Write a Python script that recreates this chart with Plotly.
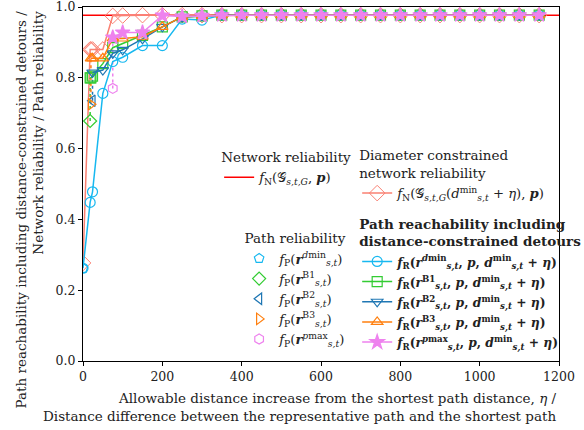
import plotly.graph_objects as go

FONT = "DejaVu Serif"

# ---------------- data ----------------
tail_x = [350, 400, 450, 500, 550, 600, 650, 700, 750, 800, 850, 900, 950, 1000, 1050, 1100, 1150]
tail_y = [0.977] * 17

net_x = [0, 1200]
net_y = [0.977, 0.977]

diam_x = [0, 18, 20, 24, 50, 75, 100, 150, 200, 250, 300] + tail_x
diam_y = [0.277, 0.88, 0.88, 0.88, 0.88, 0.975, 0.976, 0.977, 0.977, 0.977, 0.977] + tail_y

dmin_x = [0, 18, 24, 50, 75, 100, 150, 200, 250, 300] + tail_x
dmin_y = [0.262, 0.448, 0.478, 0.756, 0.846, 0.858, 0.891, 0.891, 0.966, 0.963] + tail_y

b1_x = [18, 20, 24, 50, 75, 100, 150, 200, 250, 300] + tail_x
b1_y = [0.800, 0.800, 0.805, 0.840, 0.885, 0.897, 0.920, 0.944, 0.972, 0.975] + tail_y

b2_x = [24, 50, 75, 100, 150, 200, 250, 300] + tail_x
b2_y = [0.815, 0.822, 0.869, 0.879, 0.910, 0.944, 0.972, 0.975] + tail_y

b3_x = [20, 24, 50, 75, 100, 150, 200, 250, 300] + tail_x
b3_y = [0.855, 0.855, 0.855, 0.911, 0.911, 0.916, 0.944, 0.972, 0.975] + tail_y

pmax_x = [75, 100, 150, 200, 250, 300] + tail_x
pmax_y = [0.914, 0.928, 0.928, 0.976, 0.973, 0.975] + tail_y

# path reliability (x = distance difference, y = f_P) and the f_R value it links to
fp_x = [0, 18, 24, 20, 75]
fp_y = [0.262, 0.678, 0.735, 0.725, 0.770]
fr_start_y = [0.262, 0.800, 0.815, 0.855, 0.914]

x_ticks = [0, 200, 400, 600, 800, 1000, 1200]
y_ticks = [0.0, 0.2, 0.4, 0.6, 0.8, 1.0]

# ---------------- styles ----------------
C_CYAN = "#17b8f0"
C_GREEN = "#33cc33"
C_BLUE = "#1f77b4"
C_ORANGE = "#ff7f0e"
C_PINK = "#ee82ee"
C_SALMON = "#fa8072"
TXT = "#222222"

fig = go.Figure()

rs = "<sub><i>s,t</i></sub>"
dm = "<i>d</i><sup>min</sup>" + rs + " + <i>η</i>"

fig.add_trace(go.Scatter(x=net_x, y=net_y, mode="lines", line=dict(color="red", width=1.5),
                         name="<i>f</i><sub>N</sub>(𝒢<sub><i>s,t,G</i></sub>, <b><i>p</i></b>)",
                         legend="legend"))
fig.add_trace(go.Scatter(x=diam_x, y=diam_y, mode="lines+markers",
                         line=dict(color=C_SALMON, width=1.5),
                         marker=dict(symbol="diamond-open", size=12, color=C_SALMON, line=dict(width=1)),
                         name="<i>f</i><sub>N</sub>(𝒢<sub><i>s,t,G</i></sub>(" + dm + "), <b><i>p</i></b>)",
                         legend="legend2"))

fr_specs = [
    (dmin_x, dmin_y, C_CYAN, "circle-open", "<i>d</i>min"),
    (b1_x, b1_y, C_GREEN, "square-open", "B1"),
    (b2_x, b2_y, C_BLUE, "triangle-down-open", "B2"),
    (b3_x, b3_y, C_ORANGE, "triangle-up-open", "B3"),
    (pmax_x, pmax_y, C_PINK, "star", "<i>p</i>max"),
]
fp_specs = [
    (C_CYAN, "pentagon-open", "<i>d</i>min"),
    (C_GREEN, "diamond-open", "B1"),
    (C_BLUE, "triangle-left-open", "B2"),
    (C_ORANGE, "triangle-right-open", "B3"),
    (C_PINK, "hexagon-open", "<i>p</i>max"),
]

for i, (col, sym, sup) in enumerate(fp_specs):
    fig.add_trace(go.Scatter(x=[fp_x[i], fp_x[i]], y=[fp_y[i], fr_start_y[i]], mode="lines",
                             line=dict(color=col, width=1.5, dash="dot"), showlegend=False,
                             hoverinfo="skip"))

for (xs, ys, col, sym, sup) in fr_specs:
    name = ('<span style="font-size:12.3px"><b><i>f</i><sub>R</sub>(<i>r</i><sup>' + sup + "</sup>" + rs +
            ", <i>p</i>, " + dm + ")</b></span>")
    fig.add_trace(go.Scatter(x=xs, y=ys, mode="lines+markers",
                             line=dict(color=col, width=1.5),
                             marker=dict(symbol=sym, size=10 if sym != "star" else 11, color=col,
                                         line=dict(width=1.2, color=col)),
                             name=name, legend="legend4"))

for i, (col, sym, sup) in enumerate(fp_specs):
    name = "<i>f</i><sub>P</sub>(<b><i>r</i></b><sup>" + sup + "</sup>" + rs + ")"
    fig.add_trace(go.Scatter(x=[fp_x[i]], y=[fp_y[i]], mode="markers",
                             marker=dict(symbol=sym, size=10, color=col, line=dict(width=1.2, color=col)),
                             name=name, legend="legend3"))

LF = 13.2
leg_common = dict(bgcolor="rgba(0,0,0,0)", borderwidth=0, font=dict(family=FONT, size=LF, color=TXT),
                  itemwidth=30, tracegroupgap=0)

fig.update_layout(
    width=584, height=430,
    margin=dict(l=83, r=25, t=7, b=69, autoexpand=False),
    paper_bgcolor="white", plot_bgcolor="white",
    font=dict(family=FONT, size=14, color=TXT),
    showlegend=True,
    legend=dict(x=0.286, y=0.611, xanchor="left", yanchor="top",
                title=dict(text="Network reliability", side="top center", font=dict(family=FONT, size=13.5)),
                **leg_common),
    legend2=dict(x=0.576, y=0.616, xanchor="left", yanchor="top",
                 title=dict(text="Diameter constrained<br>network reliability", side="top",
                            font=dict(family=FONT, size=13.5)),
                 **leg_common),
    legend3=dict(x=0.328, y=0.382, xanchor="left", yanchor="top",
                 title=dict(text="Path reliability", side="top center", font=dict(family=FONT, size=13.5)),
                 **leg_common),
    legend4=dict(x=0.576, y=0.423, xanchor="left", yanchor="top",
                 title=dict(text="<b>Path reachability including<br>distance-constrained detours</b>",
                            side="top", font=dict(family=FONT, size=13.5)),
                 **leg_common),
)

fig.update_xaxes(range=[0, 1200], tickvals=x_ticks, ticks="outside", ticklen=4, tickwidth=1,
                 tickcolor="black", showline=True, linecolor="black", linewidth=1.2, mirror=True,
                 showgrid=False, zeroline=False, ticklabeloverflow="allow",
                 tickfont=dict(family=FONT, size=12.5, color=TXT))
fig.update_yaxes(range=[0, 1.0], tickvals=y_ticks, tickformat=".1f", ticks="outside", ticklen=4,
                 tickwidth=1, tickcolor="black", showline=True, linecolor="black", linewidth=1.2,
                 mirror=True, showgrid=False, zeroline=False, ticklabeloverflow="allow",
                 tickfont=dict(family=FONT, size=12.5, color=TXT))

fig.add_annotation(xref="paper", yref="paper", x=1.0, y=-0.075, xanchor="right", yanchor="top",
                   align="right", showarrow=False,
                   text="Allowable distance increase from the shortest path distance, <i>η</i> /<br>"
                        "Distance difference between the representative path and the shortest path",
                   font=dict(family=FONT, size=13.5, color=TXT))
fig.add_annotation(xref="paper", yref="paper", x=-0.112, y=0.995, xanchor="center", yanchor="top",
                   align="right", showarrow=False, textangle=-90,
                   text="Path reachability including distance-constrained detours /<br>"
                        "Network reliability / Path reliability",
                   font=dict(family=FONT, size=13.5, color=TXT))

fig.write_html("out.html", config={"displayModeBar": False},
               post_script="document.body.style.margin='0';")
